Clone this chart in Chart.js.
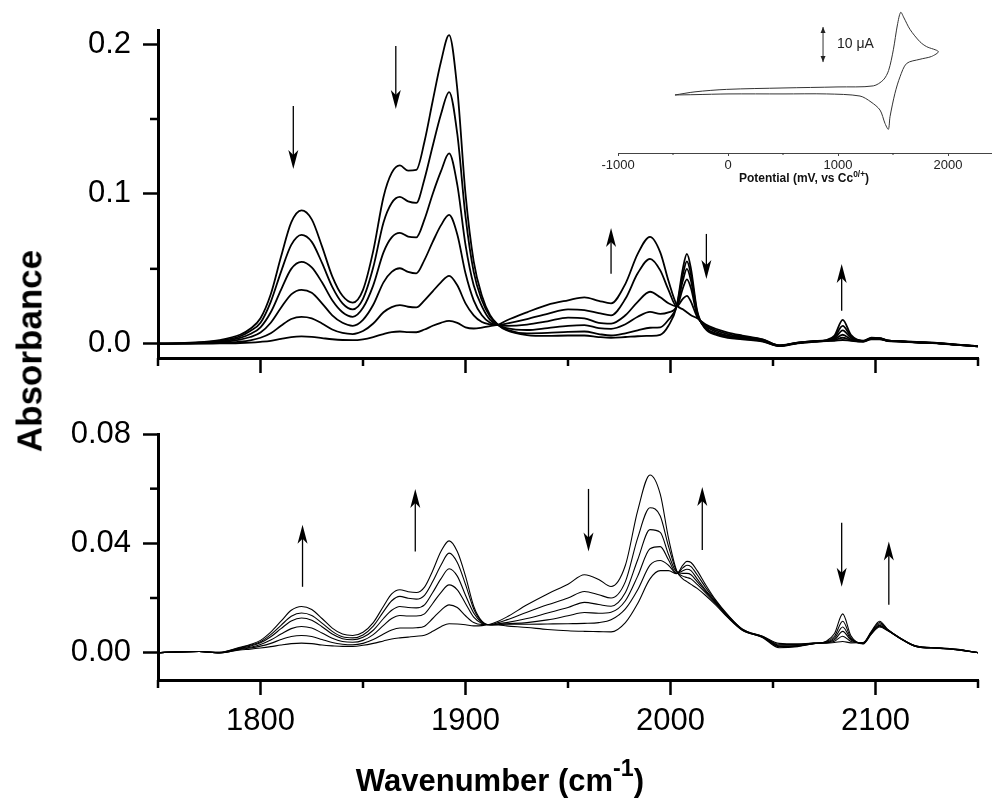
<!DOCTYPE html>
<html>
<head>
<meta charset="utf-8">
<script src="https://cdn.jsdelivr.net/npm/chart.js@4.4.1/dist/chart.umd.min.js"></script>
<style>
  body { margin: 0; background: #fff; }
  #wrap { position: relative; width: 992px; height: 806px; font-family: "Liberation Sans", Arial, sans-serif; }
  canvas { position: absolute; }
  .lbl { position: absolute; font-weight: bold; color: #000; white-space: nowrap; line-height: 1; }
  #ytitle { left: 29px; top: 351px; font-size: 35px; transform: translate(-50%, -50%) rotate(-90deg); }
  #xtitle { left: 500px; top: 778px; font-size: 31px; transform: translate(-50%, -50%); }
  #xtitle sup { font-size: 0.75em; position: relative; top: -0.15em; }
  #ititle { left: 804px; top: 177px; font-size: 12px; transform: translate(-50%, -50%); color: #111; }
  #ititle sup { font-size: 0.7em; }
</style>
</head>
<body>
<div id="wrap">
  <canvas id="topChart" width="992" height="400" style="left:0;top:0"></canvas>
  <canvas id="bottomChart" width="992" height="406" style="left:0;top:400px"></canvas>
  <canvas id="insetChart" width="432" height="200" style="left:560px;top:0"></canvas>
  <div class="lbl" id="ytitle">Absorbance</div>
  <div class="lbl" id="xtitle">Wavenumber (cm<sup>-1</sup>)</div>
  <div class="lbl" id="ititle">Potential (mV, vs Cc<sup>0/+</sup>)</div>
</div>
<script>
// wavenumber grid (cm-1), shared by both panels
var wavenumbers = [1750,1760,1770,1780,1790,1795,1800,1805,1810,1815,1820,1825,1830,1835,1840,1845,1850,1855,1860,1864,
  1868,1872,1876,1880,1884,1888,1892,1896,1900,1904,1908,1912,1916,1920,1930,1940,1950,1958,1965,1971,
  1978,1984,1990,1995,1999,2003,2006,2008,2010,2013,2017,2022,2028,2035,2045,2053,2062,2070,2076,2080,
  2084,2088,2094,2098,2102,2106,2112,2120,2130,2140,2150];

// top panel, six spectra (first -> last)
var top1 = [0,0.0003,0.001,0.0025,0.006,0.010,0.017,0.033,0.058,0.081,0.089,0.083,0.065,0.045,0.032,0.0275,0.036,0.062,0.098,0.114,
  0.119,0.1155,0.116,0.135,0.162,0.188,0.206,0.170,0.100,0.055,0.032,0.019,0.0125,0.009,0.0058,0.0052,0.0055,0.0055,0.0045,0.004,
  0.0045,0.005,0.0053,0.006,0.012,0.025,0.050,0.060,0.050,0.022,0.010,0.006,0.004,0.003,0.0015,-0.0015,0.0003,0.0013,0.0018,0.002,
  0.0025,0.002,0.0015,0.003,0.003,0.0018,0.0015,0.0008,0.0003,-0.0008,-0.0018];
var top2 = [0,0.0003,0.0008,0.002,0.005,0.0085,0.014,0.028,0.048,0.066,0.0727,0.068,0.054,0.038,0.027,0.023,0.030,0.051,0.081,0.094,
  0.098,0.095,0.094,0.110,0.132,0.153,0.168,0.140,0.085,0.048,0.029,0.018,0.0125,0.0095,0.007,0.0073,0.008,0.0082,0.0065,0.0055,
  0.007,0.009,0.0107,0.011,0.016,0.025,0.046,0.055,0.046,0.021,0.0105,0.0065,0.0045,0.0033,0.0017,-0.0015,0.0004,0.0014,0.0019,0.0025,
  0.004,0.0025,0.0015,0.0032,0.0032,0.0019,0.0015,0.0009,0.0004,-0.0008,-0.0018];
var top3 = [0,0.0002,0.0006,0.0015,0.004,0.0065,0.011,0.021,0.036,0.050,0.0547,0.051,0.041,0.029,0.021,0.018,0.024,0.039,0.061,0.071,
  0.074,0.0715,0.071,0.083,0.100,0.115,0.127,0.106,0.066,0.039,0.025,0.016,0.0125,0.0105,0.0092,0.0105,0.012,0.0125,0.0105,0.010,
  0.013,0.018,0.0213,0.020,0.021,0.025,0.042,0.050,0.042,0.020,0.011,0.007,0.005,0.0037,0.002,-0.0013,0.0005,0.0015,0.002,0.003,
  0.006,0.003,0.0016,0.0034,0.0033,0.002,0.0016,0.001,0.0004,-0.0007,-0.0017];
var top4 = [0,0.0002,0.0004,0.001,0.0028,0.0045,0.0075,0.014,0.024,0.033,0.036,0.034,0.027,0.019,0.014,0.012,0.016,0.026,0.041,0.048,
  0.0504,0.048,0.047,0.056,0.068,0.079,0.086,0.073,0.047,0.029,0.019,0.014,0.0125,0.012,0.0128,0.015,0.0175,0.017,0.014,0.0135,
  0.019,0.028,0.0347,0.031,0.027,0.025,0.037,0.043,0.037,0.019,0.012,0.008,0.0055,0.0042,0.0023,-0.0012,0.0006,0.0016,0.0021,0.0035,
  0.009,0.004,0.0017,0.0036,0.0035,0.0021,0.0016,0.001,0.0005,-0.0007,-0.0017];
var top5 = [0,0.0001,0.0002,0.0005,0.0014,0.0023,0.004,0.007,0.012,0.0165,0.018,0.017,0.0135,0.0095,0.0072,0.0065,0.0085,0.0135,0.021,0.0245,
  0.0258,0.0247,0.0243,0.029,0.035,0.041,0.0453,0.039,0.027,0.019,0.0145,0.013,0.0125,0.0135,0.0165,0.020,0.023,0.0225,0.0205,0.019,
  0.030,0.047,0.0567,0.049,0.036,0.025,0.030,0.032,0.028,0.018,0.0125,0.009,0.0065,0.0048,0.0027,-0.0012,0.0007,0.0017,0.0023,0.0045,
  0.012,0.005,0.0018,0.0038,0.0037,0.0022,0.0017,0.0011,0.0005,-0.0006,-0.0016];
var top6 = [0,0.0001,0.0001,0.0002,0.0005,0.0008,0.0013,0.002,0.0033,0.0045,0.0049,0.0046,0.0038,0.003,0.0025,0.0024,0.003,0.0045,0.0065,0.0078,
  0.0082,0.0078,0.0077,0.0095,0.012,0.014,0.0153,0.014,0.011,0.0102,0.0108,0.0118,0.0128,0.0155,0.021,0.026,0.029,0.031,0.0287,0.027,
  0.040,0.060,0.0713,0.061,0.042,0.026,0.023,0.021,0.019,0.017,0.013,0.010,0.0075,0.0055,0.003,-0.001,0.0008,0.0018,0.0025,0.0055,
  0.016,0.006,0.002,0.004,0.0038,0.0023,0.0017,0.0012,0.0006,-0.0006,-0.0016];

// bottom panel, six spectra (first -> last)
var bot1 = [0,0.0003,0.0004,-0.0001,0.001,0.0013,0.0017,0.0022,0.0028,0.0033,0.0035,0.0033,0.0028,0.0025,0.0023,0.0023,0.0027,0.0034,0.0043,0.005,
  0.0054,0.0057,0.006,0.0064,0.0078,0.0095,0.0106,0.0105,0.0102,0.0098,0.0099,0.0104,0.0115,0.013,0.0175,0.0215,0.025,0.0285,0.0268,0.0242,
  0.032,0.052,0.065,0.058,0.042,0.030,0.027,0.026,0.025,0.0235,0.021,0.0175,0.0128,0.0082,0.0055,0.0018,0.0022,0.0033,0.0042,0.007,
  0.0142,0.0062,0.0032,0.0068,0.0094,0.008,0.0052,0.0022,0.0016,0.001,0];
var bot2 = [0,0.0003,0.0004,-0.0001,0.0012,0.0017,0.0024,0.0034,0.0048,0.0059,0.0063,0.0059,0.0048,0.0037,0.0031,0.0029,0.0034,0.0048,0.0068,0.0083,
  0.009,0.009,0.0091,0.0097,0.0125,0.0155,0.0175,0.0165,0.0135,0.011,0.0103,0.0103,0.011,0.012,0.0148,0.0175,0.020,0.0224,0.0212,0.020,
  0.026,0.042,0.053,0.050,0.039,0.0298,0.028,0.0275,0.027,0.025,0.022,0.018,0.013,0.0083,0.0056,0.0022,0.0024,0.0033,0.004,0.006,
  0.0115,0.0055,0.0033,0.007,0.0097,0.0081,0.0052,0.0022,0.0016,0.001,0];
var bot3 = [0,0.0003,0.0004,0,0.0014,0.002,0.003,0.0046,0.0068,0.0088,0.0096,0.009,0.0072,0.0053,0.0041,0.0038,0.0045,0.0066,0.010,0.0125,
  0.0136,0.0134,0.0134,0.0142,0.018,0.022,0.0248,0.023,0.018,0.013,0.0107,0.0102,0.0106,0.011,0.0125,0.0145,0.0165,0.0184,0.0176,0.017,
  0.022,0.034,0.045,0.044,0.036,0.0295,0.029,0.029,0.0285,0.026,0.0225,0.0183,0.0132,0.0084,0.0057,0.0025,0.0026,0.0034,0.0038,0.0053,
  0.0094,0.005,0.0034,0.0072,0.010,0.0082,0.0053,0.0023,0.0017,0.0011,0];
var bot4 = [0,0.0003,0.0004,0,0.0016,0.0024,0.0036,0.0058,0.0088,0.0116,0.0127,0.0119,0.0095,0.0068,0.0051,0.0047,0.0056,0.0082,0.0125,0.0155,
  0.0169,0.0165,0.0164,0.0175,0.022,0.027,0.0307,0.028,0.021,0.0145,0.011,0.0102,0.0104,0.0106,0.011,0.012,0.0135,0.0147,0.0144,0.0148,
  0.019,0.028,0.038,0.0388,0.034,0.029,0.030,0.0305,0.030,0.027,0.023,0.0186,0.0134,0.0085,0.0058,0.0028,0.0028,0.0034,0.0037,0.0047,
  0.0078,0.0046,0.0035,0.0074,0.0105,0.0083,0.0053,0.0023,0.0017,0.0011,0];
var bot5 = [0,0.0003,0.0004,0.0001,0.0018,0.0027,0.004,0.0066,0.010,0.0133,0.0145,0.0136,0.0108,0.0078,0.0058,0.0054,0.0065,0.0097,0.015,0.019,
  0.0206,0.0199,0.0196,0.021,0.026,0.032,0.0364,0.033,0.025,0.016,0.0113,0.0102,0.0103,0.0104,0.0104,0.0105,0.0106,0.0107,0.011,0.012,
  0.016,0.023,0.032,0.0337,0.032,0.029,0.031,0.032,0.0315,0.0285,0.024,0.019,0.0136,0.0086,0.0059,0.0031,0.003,0.0035,0.0036,0.0042,
  0.006,0.0041,0.0036,0.0076,0.011,0.0084,0.0054,0.0024,0.0018,0.0012,0];
var bot6 = [0,0.0003,0.0004,0.0001,0.002,0.003,0.0045,0.0075,0.0115,0.0155,0.0169,0.0158,0.0125,0.009,0.0068,0.0063,0.0075,0.011,0.017,0.0215,
  0.023,0.0223,0.022,0.024,0.030,0.037,0.0409,0.037,0.028,0.017,0.0115,0.0101,0.0101,0.0098,0.0092,0.0085,0.008,0.0078,0.0077,0.0076,
  0.011,0.018,0.027,0.030,0.030,0.0289,0.032,0.0334,0.033,0.030,0.025,0.0193,0.0138,0.0087,0.006,0.0034,0.0032,0.0035,0.0035,0.0037,
  0.0041,0.0036,0.0037,0.0078,0.0115,0.0085,0.0054,0.0024,0.0018,0.0012,0];

// y tick labels
var topTicks = [0, 0.1, 0.2];
var topMinorTicks = [0.05, 0.15];
var bottomTicks = [0, 0.04, 0.08];
var bottomMinorTicks = [0.02, 0.06];
var xTicks = [1800, 1900, 2000, 2100];
var xMinorTicks = [1750, 1850, 1950, 2050, 2150];

// arrows: wavenumber, start absorbance, end absorbance
var topArrowX = [1816, 1866, 1971, 2017.5, 2083.5];
var topArrowFrom = [0.1587, 0.1987, 0.0467, 0.0733, 0.022];
var topArrowTo = [0.1167, 0.1567, 0.0773, 0.0433, 0.0533];
var botArrowX = [1820.5, 1875.5, 1960, 2015.5, 2083.5, 2106.5];
var botArrowFrom = [0.0241, 0.037, 0.0599, 0.0376, 0.0475, 0.0175];
var botArrowTo = [0.0468, 0.0599, 0.037, 0.0606, 0.0241, 0.0407];

// inset cyclic voltammogram: potential (mV vs Cc) and current (uA)
var cvPotential = [-482,-300,-12,500,1000,1321,1412,1460,1503,1540,1570,1600,1655,1745,1806,1912,
  1850,1745,1624,1564,1518,1473,1458,1427,1382,1300,1200,897,500,0,-300,-482];
var cvCurrent = [0,0.9,1.6,2.0,2.3,2.6,4.3,7.0,12.9,20.0,23.6,22.0,18.7,15.2,13.8,12.4,
  11.0,10.2,9.0,5.2,0.5,-6.2,-9.8,-8.1,-4.3,-2.0,-0.3,0.3,0.3,0.3,0.1,0];
var cvTicks = [-1000, 0, 1000, 2000];
var cvMinorTicks = [-500, 500, 1500];
var scaleBarMv = 864;
var scaleBarFrom = 9.4;
var scaleBarTo = 19.4;

Chart.defaults.font.family = "'Liberation Sans', Arial, sans-serif";
Chart.defaults.color = '#000';

function toPoints(xs, ys) {
  return xs.map(function (x, i) { return { x: x, y: ys[i] }; });
}

function drawArrow(ctx, x, y0, y1) {
  var dir = y1 > y0 ? 1 : -1;
  ctx.lineWidth = 1.3;
  ctx.beginPath();
  ctx.moveTo(x, y0);
  ctx.lineTo(x, y1 - dir * 12);
  ctx.stroke();
  ctx.beginPath();
  ctx.moveTo(x, y1);
  ctx.lineTo(x - 5, y1 - dir * 19);
  ctx.lineTo(x, y1 - dir * 14);
  ctx.lineTo(x + 5, y1 - dir * 19);
  ctx.closePath();
  ctx.fill();
}

var extrasPlugin = {
  id: 'extras',
  afterDraw: function (chart, args, opts) {
    var ctx = chart.ctx, xs = chart.scales.x, ys = chart.scales.y, area = chart.chartArea;
    ctx.save();
    ctx.strokeStyle = '#000';
    ctx.fillStyle = '#000';
    ctx.lineWidth = opts.tickWidth;
    (opts.minorX || []).forEach(function (v) {
      var px = xs.getPixelForValue(v);
      ctx.beginPath(); ctx.moveTo(px, area.bottom); ctx.lineTo(px, area.bottom + opts.minorLen); ctx.stroke();
    });
    (opts.minorY || []).forEach(function (v) {
      var py = ys.getPixelForValue(v);
      ctx.beginPath(); ctx.moveTo(area.left, py); ctx.lineTo(area.left - opts.minorLen, py); ctx.stroke();
    });
    var ax = opts.arrowX || [];
    for (var i = 0; i < ax.length; i++) {
      drawArrow(ctx, xs.getPixelForValue(ax[i]), ys.getPixelForValue(opts.arrowFrom[i]), ys.getPixelForValue(opts.arrowTo[i]));
    }
    ctx.restore();
  }
};

function spectraDatasets(series, width) {
  return series.map(function (s) {
    return {
      data: toPoints(wavenumbers, s),
      borderColor: '#000',
      borderWidth: width,
      pointRadius: 0,
      cubicInterpolationMode: 'monotone',
      fill: false
    };
  });
}

function panelOptions(yMin, yMax, yTicks, decimals, showX, xHeight, padTop, extras) {
  return {
    responsive: false,
    animation: false,
    events: [],
    layout: { padding: { top: padTop, right: 14, left: 0, bottom: 0 } },
    plugins: { legend: { display: false }, tooltip: { enabled: false }, extras: extras },
    scales: {
      x: {
        type: 'linear', min: 1750, max: 2150,
        afterBuildTicks: function (s) { s.ticks = xTicks.map(function (v) { return { value: v }; }); },
        afterFit: function (s) { s.height = xHeight; },
        border: { display: true, color: '#000', width: 3 },
        grid: { drawOnChartArea: false, drawTicks: true, tickLength: 15, tickWidth: 2.5, tickColor: '#000' },
        ticks: {
          display: showX, font: { size: 31 }, color: '#000', padding: 8, maxRotation: 0,
          callback: function (v) { return String(v); }
        }
      },
      y: {
        min: yMin, max: yMax,
        afterBuildTicks: function (s) { s.ticks = yTicks.map(function (v) { return { value: v }; }); },
        afterFit: function (s) { s.width = 158; },
        border: { display: true, color: '#000', width: 3 },
        grid: { drawOnChartArea: false, drawTicks: true, tickLength: 15, tickWidth: 2.5, tickColor: '#000' },
        ticks: {
          font: { size: 31 }, color: '#000', padding: 12,
          callback: function (v) { return Number(v).toFixed(decimals); }
        }
      }
    }
  };
}

new Chart(document.getElementById('topChart'), {
  type: 'line',
  data: { datasets: spectraDatasets([top1, top2, top3, top4, top5, top6], 1.8) },
  options: panelOptions(-0.0095, 0.209, topTicks, 1, false, 42, 30, {
    minorX: xMinorTicks, minorY: topMinorTicks, minorLen: 8, tickWidth: 2.5,
    arrowX: topArrowX, arrowFrom: topArrowFrom, arrowTo: topArrowTo
  }),
  plugins: [extrasPlugin]
});

new Chart(document.getElementById('bottomChart'), {
  type: 'line',
  data: { datasets: spectraDatasets([bot1, bot2, bot3, bot4, bot5, bot6], 1.1) },
  options: panelOptions(-0.01, 0.08, bottomTicks, 2, true, 126, 34, {
    minorX: xMinorTicks, minorY: bottomMinorTicks, minorLen: 8, tickWidth: 2.5,
    arrowX: botArrowX, arrowFrom: botArrowFrom, arrowTo: botArrowTo
  }),
  plugins: [extrasPlugin]
});

var insetPlugin = {
  id: 'insetExtras',
  afterDraw: function (chart) {
    var ctx = chart.ctx, xs = chart.scales.x, ys = chart.scales.y, area = chart.chartArea;
    ctx.save();
    ctx.strokeStyle = '#333';
    ctx.fillStyle = '#222';
    ctx.lineWidth = 1;
    cvMinorTicks.forEach(function (v) {
      var px = xs.getPixelForValue(v);
      ctx.beginPath(); ctx.moveTo(px, area.bottom); ctx.lineTo(px, area.bottom + 2); ctx.stroke();
    });
    var bx = xs.getPixelForValue(scaleBarMv);
    var b0 = ys.getPixelForValue(scaleBarFrom), b1 = ys.getPixelForValue(scaleBarTo);
    ctx.beginPath(); ctx.moveTo(bx, b0); ctx.lineTo(bx, b1); ctx.stroke();
    [[b1, 1], [b0, -1]].forEach(function (h) {
      ctx.beginPath();
      ctx.moveTo(bx, h[0]);
      ctx.lineTo(bx - 2.5, h[0] + h[1] * 6);
      ctx.lineTo(bx + 2.5, h[0] + h[1] * 6);
      ctx.closePath(); ctx.fill();
    });
    ctx.font = "14px 'Liberation Sans', Arial, sans-serif";
    ctx.textBaseline = 'middle';
    ctx.fillText('10 \u03bcA', bx + 14, (b0 + b1) / 2);
    ctx.restore();
  }
};

new Chart(document.getElementById('insetChart'), {
  type: 'line',
  data: {
    datasets: [{
      data: toPoints(cvPotential, cvCurrent),
      borderColor: '#333',
      borderWidth: 1,
      pointRadius: 0,
      tension: 0.3,
      fill: false
    }]
  },
  options: {
    responsive: false,
    animation: false,
    events: [],
    layout: { padding: { top: 5, right: 0, left: 58, bottom: 0 } },
    plugins: { legend: { display: false }, tooltip: { enabled: false } },
    scales: {
      x: {
        type: 'linear', min: -1000, max: 2400,
        afterBuildTicks: function (s) { s.ticks = cvTicks.map(function (v) { return { value: v }; }); },
        afterFit: function (s) { s.height = 47; },
        border: { display: true, color: '#444', width: 1 },
        grid: { drawOnChartArea: false, drawTicks: true, tickLength: 3, tickWidth: 1, tickColor: '#444' },
        ticks: {
          font: { size: 13 }, color: '#222', padding: 2, maxRotation: 0,
          callback: function (v) { return String(v); }
        }
      },
      y: { display: false, min: -16.57, max: 25.7 }
    }
  },
  plugins: [insetPlugin]
});
</script>
</body>
</html>
